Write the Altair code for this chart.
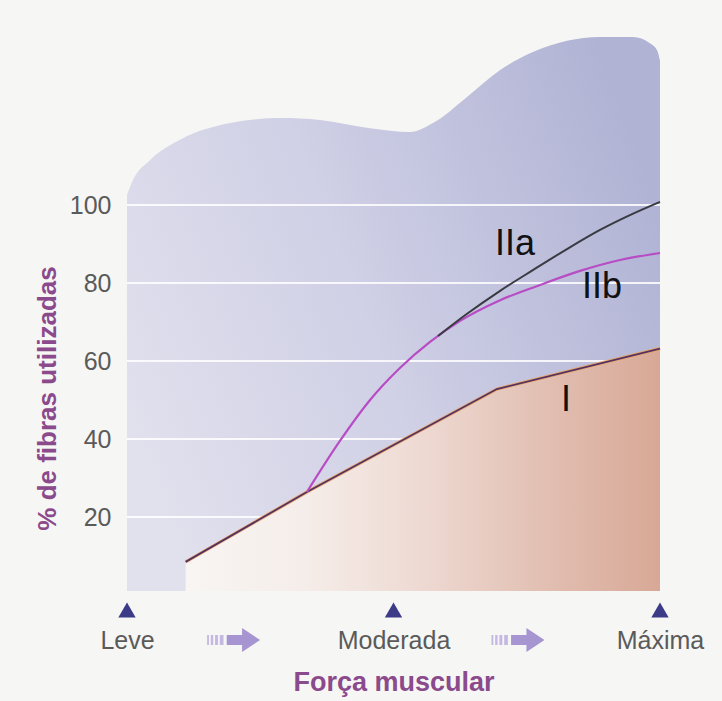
import json
import altair as alt
import pandas as pd

FONT = "Liberation Sans, Arial, Helvetica, sans-serif"

# Muscle force levels on the x axis (0 = light, 1 = moderate, 2 = maximal)
force_labels = ["Leve", "Moderada", "Máxima"]
force_pos = [0, 1, 2]

# Fibre recruitment curves (% of fibres used)
type_i_x = [0.22, 0.675, 1.388, 2.0]
type_i_y = [8.5, 26.4, 52.8, 63.2]

type_iib_x = [0.675, 0.799, 0.912, 1.024, 1.137, 1.250, 1.400, 1.550, 1.700, 1.850, 2.0]
type_iib_y = [26.4, 39.5, 50.0, 58.2, 64.9, 70.3, 75.6, 79.5, 83.1, 85.9, 87.7]

type_iia_x = [1.167, 1.276, 1.400, 1.523, 1.651, 1.775, 1.887, 2.0]
type_iia_y = [66.4, 72.1, 78.0, 83.3, 88.7, 93.6, 97.4, 100.8]

# Wavy outline of the shaded background panel
panel_x = [0.0, 0.0225, 0.086, 0.199, 0.386, 0.574, 0.724, 0.912, 1.062,
           1.148, 1.276, 1.40, 1.523, 1.651, 1.775, 1.899, 1.962, 1.989, 2.0]
panel_y = [102.6, 106.4, 111.5, 116.7, 121.0, 122.3, 121.8, 119.7, 118.7,
           121.0, 127.7, 134.6, 139.2, 142.1, 143.1, 143.1, 141.5, 139.7, 137.0]

grid_values = [20, 40, 60, 80, 100]

curve_names = ["IIa", "IIb", "I"]
curve_name_x = [1.456, 1.782, 1.647]
curve_name_y = [90.0, 79.0, 50.0]

panel = pd.DataFrame({"x": panel_x, "y": panel_y})
type_i = pd.DataFrame({"x": type_i_x, "y": type_i_y})
type_iib = pd.DataFrame({"x": type_iib_x, "y": type_iib_y})
type_iia = pd.DataFrame({"x": type_iia_x, "y": type_iia_y})
grid = pd.DataFrame({"y": grid_values})
names = pd.DataFrame({"x": curve_name_x, "y": curve_name_y, "label": curve_names})
levels = pd.DataFrame({"x": force_pos, "label": force_labels})
arrows = pd.DataFrame({"x": [0.40, 1.467]})

x_scale = alt.Scale(domain=[0, 2], nice=False, zero=False)
y_scale = alt.Scale(domain=[0, 150], nice=False)

label_expr = json.dumps(force_labels) + "[datum.value]"

x_enc = alt.X(
    "x:Q",
    scale=x_scale,
    axis=alt.Axis(
        values=force_pos,
        labelExpr=label_expr,
        grid=False,
        domain=False,
        ticks=False,
        labelFlush=False,
        labelOverlap=False,
        labelFont=FONT,
        labelFontSize=25,
        labelColor="#5a5a5a",
        labelPadding=33,
        title="Força muscular",
        titleFont=FONT,
        titleFontSize=27,
        titleFontWeight="bold",
        titleColor="#8a4a8c",
        titleY=95,
        titleBaseline="alphabetic",
    ),
)

y_enc = alt.Y(
    "y:Q",
    scale=y_scale,
    axis=alt.Axis(
        values=grid_values,
        grid=False,
        domain=False,
        ticks=False,
        labelFont=FONT,
        labelFontSize=25,
        labelColor="#5a5a5a",
        labelPadding=16,
        title="% de fibras utilizadas",
        titleFont=FONT,
        titleFontSize=26,
        titleFontWeight="bold",
        titleColor="#8a4a8c",
        titleX=-80,
        titleY=388,
        titleBaseline="middle",
        titleAlign="center",
    ),
)

lavender = alt.Gradient(
    gradient="linear",
    stops=[
        alt.GradientStop(color="#e1e0ed", offset=0),
        alt.GradientStop(color="#d0d0e6", offset=0.45),
        alt.GradientStop(color="#b0b3d4", offset=1),
    ],
    x1=0, y1=0.7, x2=1, y2=0.3,
)

peach = alt.Gradient(
    gradient="linear",
    stops=[
        alt.GradientStop(color="#f8f5f2", offset=0),
        alt.GradientStop(color="#f5ede9", offset=0.25),
        alt.GradientStop(color="#eed9d2", offset=0.5),
        alt.GradientStop(color="#e2c0b3", offset=0.75),
        alt.GradientStop(color="#d8a896", offset=1),
    ],
    x1=0, y1=0.5, x2=1, y2=0.5,
)

# Background panel with its wavy top
panel_layer = alt.Chart(panel).mark_area(
    interpolate="monotone", color=lavender
).encode(x=x_enc, y=y_enc, y2=alt.datum(1))

# White guide lines across the panel
grid_layer = alt.Chart(grid).mark_rule(
    color="#ffffff", strokeWidth=2, opacity=0.85
).encode(y="y:Q", x=alt.datum(0), x2=alt.datum(2))

# Area under the type I curve
type_i_area = alt.Chart(type_i).mark_area(color=peach).encode(
    x="x:Q", y="y:Q", y2=alt.datum(1)
)

type_i_edge = alt.Chart(type_i).mark_line(
    color="#e6a45a", strokeWidth=3.4, opacity=0.8
).encode(x="x:Q", y="y:Q")

type_i_line = alt.Chart(type_i).mark_line(
    color="#583060", strokeWidth=1.8
).encode(x="x:Q", y="y:Q")

type_iib_line = alt.Chart(type_iib).mark_line(
    color="#b84cc4", strokeWidth=2.2, interpolate="monotone"
).encode(x="x:Q", y="y:Q")

type_iia_line = alt.Chart(type_iia).mark_line(
    color="#3a3a42", strokeWidth=2, interpolate="monotone"
).encode(x="x:Q", y="y:Q")

name_layer = alt.Chart(names).mark_text(
    font=FONT, fontSize=36, color="#111111", align="center", baseline="middle"
).encode(x="x:Q", y="y:Q", text="label:N")

# Markers above each force level
markers = alt.Chart(levels).mark_point(
    shape="triangle-up", filled=True, color="#3b3b88", size=300, opacity=1
).encode(x="x:Q", y=alt.value(600))

# Progression arrows between the levels
arrow_body = "M-0.26,-0.19 L0.32,-0.19 L0.32,-0.45 L1,0 L0.32,0.45 L0.32,0.19 L-0.26,0.19 Z"
arrow_tail = ("M-1,-0.19 h0.07 v0.38 h-0.07 Z "
              "M-0.86,-0.19 h0.09 v0.38 h-0.09 Z "
              "M-0.7,-0.19 h0.11 v0.38 h-0.11 Z "
              "M-0.52,-0.19 h0.14 v0.38 h-0.14 Z")

arrow_heads = alt.Chart(arrows).mark_point(
    shape=arrow_body, filled=True, color="#a795d2", size=2809, opacity=1, strokeWidth=0
).encode(x="x:Q", y=alt.value(630))

arrow_tails = alt.Chart(arrows).mark_point(
    shape=arrow_tail, filled=True, color="#c5b9e3", size=2809, opacity=1, strokeWidth=0
).encode(x="x:Q", y=alt.value(630))

chart = alt.layer(
    panel_layer,
    grid_layer,
    type_i_area,
    type_i_edge,
    type_i_line,
    type_iib_line,
    type_iia_line,
    name_layer,
    markers,
    arrow_tails,
    arrow_heads,
).properties(
    width=533,
    height=585,
    autosize=alt.AutoSizeParams(type="none"),
    padding={"left": 127, "top": 10, "right": 62, "bottom": 106},
    background="#f6f6f4",
).configure_view(stroke=None)

chart.save("out.html", embed_options={"renderer": "svg", "actions": False})
